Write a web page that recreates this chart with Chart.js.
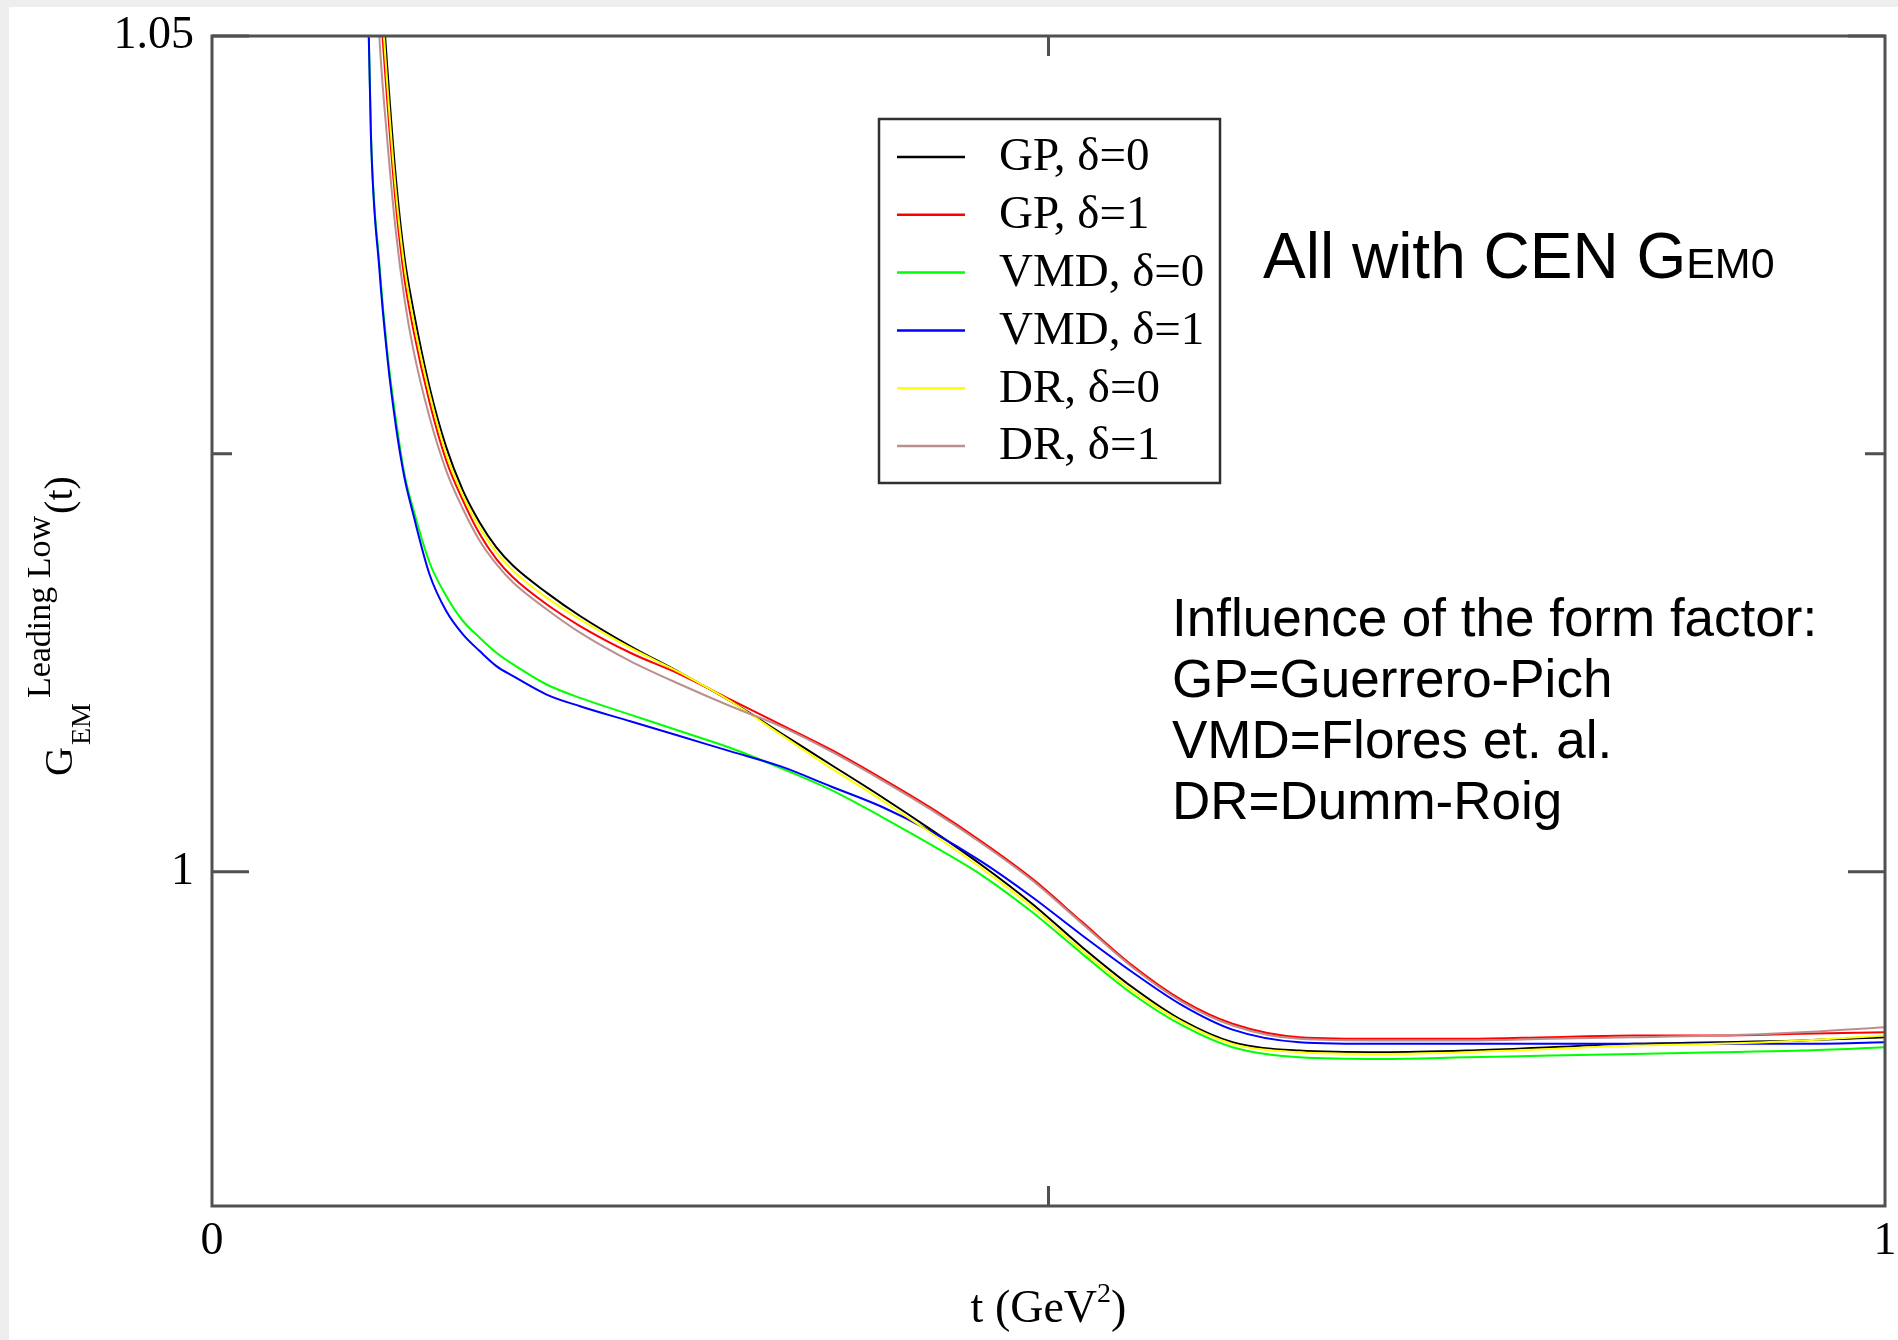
<!DOCTYPE html>
<html>
<head>
<meta charset="utf-8">
<script src="https://cdn.jsdelivr.net/npm/chart.js@4.4.1/dist/chart.umd.min.js"></script>
<style>
  html, body { margin: 0; padding: 0; background: #eeeeee; }
  #wrap { position: absolute; left: 9px; top: 7px; width: 1889px; height: 1333px; background: #ffffff; }
</style>
</head>
<body>
<div id="wrap"><canvas id="chart" width="1889" height="1333"></canvas></div>
<script>
// t values (GeV^2) shared by all curves
const tValues = [0.09, 0.095, 0.1, 0.105, 0.11, 0.115, 0.12, 0.13, 0.14, 0.15, 0.16, 0.17, 0.18, 0.2, 0.22, 0.25, 0.28, 0.31, 0.34, 0.37, 0.4, 0.43, 0.46, 0.49, 0.52, 0.55, 0.58, 0.61, 0.65, 0.7, 0.75, 0.8, 0.85, 0.9, 0.95, 1.0];

// G_EM leading low
const gp0  = [1.078, 1.066, 1.0555, 1.0478, 1.0414, 1.0368, 1.0338, 1.0290, 1.0254, 1.0228, 1.0209, 1.0194, 1.0183, 1.0167, 1.0153, 1.0135, 1.0119, 1.0102, 1.0083, 1.0064, 1.0045, 1.0025, 1.0004, 0.9981, 0.9955, 0.9931, 0.9911, 0.9898, 0.9893, 0.9892, 0.9893, 0.9895, 0.9897, 0.9898, 0.9899, 0.9901];
const gp1  = [1.076, 1.063, 1.0530, 1.0458, 1.0398, 1.0355, 1.0326, 1.0281, 1.0246, 1.0222, 1.0202, 1.0187, 1.0176, 1.0160, 1.0147, 1.0131, 1.0118, 1.0103, 1.0088, 1.0073, 1.0056, 1.0038, 1.0018, 0.9996, 0.9970, 0.9944, 0.9923, 0.9909, 0.9901, 0.9900, 0.9900, 0.9901, 0.9902, 0.9902, 0.9903, 0.9904];
const vmd0 = [1.068, 1.0442, 1.0364, 1.0309, 1.0270, 1.0238, 1.0218, 1.0185, 1.0165, 1.0150, 1.0140, 1.0131, 1.0124, 1.0112, 1.0104, 1.0094, 1.0084, 1.0074, 1.0062, 1.0049, 1.0033, 1.0016, 0.9998, 0.9976, 0.9951, 0.9927, 0.9908, 0.9895, 0.9889, 0.9888, 0.9889, 0.9890, 0.9891, 0.9892, 0.9893, 0.9895];
const vmd1 = [1.068, 1.0440, 1.0361, 1.0306, 1.0266, 1.0236, 1.0215, 1.0178, 1.0156, 1.0142, 1.0132, 1.0123, 1.0117, 1.0106, 1.0099, 1.0090, 1.0081, 1.0072, 1.0063, 1.0051, 1.0039, 1.0024, 1.0006, 0.9985, 0.9962, 0.9940, 0.9920, 0.99055, 0.9898, 0.9897, 0.9897, 0.9897, 0.9897, 0.9897, 0.9897, 0.9898];
const dr0  = [1.077, 1.0645, 1.0545, 1.0468, 1.0406, 1.0362, 1.0332, 1.0286, 1.0250, 1.0225, 1.0206, 1.0191, 1.0180, 1.0164, 1.0151, 1.0134, 1.0119, 1.0102, 1.0082, 1.0062, 1.0043, 1.0023, 1.0002, 0.9979, 0.9953, 0.9929, 0.9910, 0.9897, 0.9892, 0.9891, 0.9892, 0.9894, 0.9896, 0.9897, 0.9899, 0.9902];
const dr1  = [1.073, 1.061, 1.0500, 1.0435, 1.0382, 1.0343, 1.0314, 1.0272, 1.0240, 1.0217, 1.0198, 1.0184, 1.0173, 1.0157, 1.0143, 1.0126, 1.0112, 1.0099, 1.0087, 1.0072, 1.0055, 1.0037, 1.0017, 0.9995, 0.9969, 0.9943, 0.9922, 0.9908, 0.9900, 0.9899, 0.9899, 0.9900, 0.9901, 0.9902, 0.9904, 0.9907];

const seriesLabels = ['GP, δ=0', 'GP, δ=1', 'VMD, δ=0', 'VMD, δ=1', 'DR, δ=0', 'DR, δ=1'];
const seriesColors = ['#000000', '#ff0000', '#00ff00', '#0000ff', '#ffff00', '#bc8f8f'];
const seriesValues = [gp0, gp1, vmd0, vmd1, dr0, dr1];

const xTickValues = [0, 1];
const xTickLabels = ['0', '1'];
const xMinorTicks = [0.5];
const yTickValues = [1, 1.05];
const yTickLabels = ['1', '1.05'];
const yMinorTicks = [1.025];

const noteTitle = 'All with CEN G';
const noteTitleSub = 'EM0';
const noteLines = ['Influence of the form factor:', 'GP=Guerrero-Pich', 'VMD=Flores et. al.', 'DR=Dumm-Roig'];

const serif = 'Liberation Serif, Times New Roman, serif';
const sans = 'Liberation Sans, Arial, sans-serif';

// frame box and inward ticks, like xmgrace draws them
const framePlugin = {
    id: 'frame',
    afterDatasetsDraw(chart) {
        const { ctx, chartArea: a, scales } = chart;
        ctx.save();
        ctx.strokeStyle = '#505050';
        ctx.lineWidth = 3;
        ctx.strokeRect(a.left, a.top, a.right - a.left, a.bottom - a.top);
        ctx.beginPath();
        yTickValues.forEach(v => {
            const py = scales.y.getPixelForValue(v);
            ctx.moveTo(a.left, py); ctx.lineTo(a.left + 37, py);
            ctx.moveTo(a.right, py); ctx.lineTo(a.right - 37, py);
        });
        yMinorTicks.forEach(v => {
            const py = scales.y.getPixelForValue(v);
            ctx.moveTo(a.left, py); ctx.lineTo(a.left + 20, py);
            ctx.moveTo(a.right, py); ctx.lineTo(a.right - 20, py);
        });
        xMinorTicks.forEach(v => {
            const px = scales.x.getPixelForValue(v);
            ctx.moveTo(px, a.bottom); ctx.lineTo(px, a.bottom - 20);
            ctx.moveTo(px, a.top); ctx.lineTo(px, a.top + 20);
        });
        ctx.stroke();
        ctx.restore();
    }
};

// legend box inside the plot
const legendPlugin = {
    id: 'boxLegend',
    afterDraw(chart) {
        const { ctx, chartArea: a } = chart;
        const left = a.left + 667, top = a.top + 83, w = 341, h = 364;
        ctx.save();
        ctx.fillStyle = '#ffffff';
        ctx.fillRect(left, top, w, h);
        ctx.strokeStyle = '#303030';
        ctx.lineWidth = 2.5;
        ctx.strokeRect(left, top, w, h);
        ctx.font = '47px ' + serif;
        ctx.textBaseline = 'middle';
        ctx.fillStyle = '#000';
        chart.data.datasets.forEach((ds, i) => {
            const yy = top + 38 + i * 57.8;
            ctx.strokeStyle = ds.borderColor;
            ctx.lineWidth = 2.5;
            ctx.beginPath();
            ctx.moveTo(left + 18, yy);
            ctx.lineTo(left + 86, yy);
            ctx.stroke();
            ctx.fillText(ds.label, left + 120, yy + 1);
        });
        ctx.restore();
    }
};

// free text and axis titles
const textPlugin = {
    id: 'texts',
    afterDraw(chart) {
        const { ctx, chartArea: a } = chart;
        ctx.save();
        ctx.fillStyle = '#000';
        ctx.textBaseline = 'alphabetic';

        // note at top right
        ctx.font = '64px ' + sans;
        const nx = a.left + 1051, ny = a.top + 242;
        ctx.fillText(noteTitle, nx, ny);
        const tw = ctx.measureText(noteTitle).width;
        ctx.font = '43px ' + sans;
        ctx.fillText(noteTitleSub, nx + tw, ny);

        ctx.font = '53px ' + sans;
        noteLines.forEach((s, i) => {
            ctx.fillText(s, a.left + 960, a.top + 600 + i * 61);
        });

        // x title: t (GeV^2)
        const xs = 't (GeV', xe = ')';
        ctx.font = '46px ' + serif;
        const w1 = ctx.measureText(xs).width, w3 = ctx.measureText(xe).width;
        ctx.font = '28px ' + serif;
        const w2 = ctx.measureText('2').width;
        const cx = (a.left + a.right) / 2;
        const bx = cx - (w1 + w2 + w3) / 2, by = a.bottom + 116;
        ctx.font = '46px ' + serif;
        ctx.fillText(xs, bx, by);
        ctx.fillText(xe, bx + w1 + w2, by);
        ctx.font = '28px ' + serif;
        ctx.fillText('2', bx + w1, by - 20);

        // y title: G_EM^{Leading Low}(t), rotated
        ctx.translate(63, 769);
        ctx.rotate(-Math.PI / 2);
        let u = 0;
        ctx.font = '40px ' + serif;
        ctx.fillText('G', u, 0);
        u += ctx.measureText('G').width + 2;
        ctx.font = '28px ' + serif;
        ctx.fillText('EM', u, 18);
        u += ctx.measureText('EM').width + 5;
        ctx.font = '34px ' + serif;
        ctx.fillText('Leading Low', u, -22);
        u += ctx.measureText('Leading Low').width + 2;
        ctx.font = '40px ' + serif;
        ctx.fillText('(t)', u, 0);
        ctx.restore();
    }
};

const ctx = document.getElementById('chart').getContext('2d');
new Chart(ctx, {
    type: 'line',
    data: {
        datasets: seriesValues.map((vals, i) => ({
            label: seriesLabels[i],
            data: tValues.map((t, j) => ({ x: t, y: vals[j] })),
            borderColor: seriesColors[i],
            backgroundColor: seriesColors[i],
            borderWidth: 2,
            pointRadius: 0,
            cubicInterpolationMode: 'monotone',
            fill: false,
            clip: 0,
            order: seriesValues.length - i
        }))
    },
    options: {
        responsive: false,
        animation: false,
        layout: { padding: { left: 0, right: 13, top: 29, bottom: 0 } },
        plugins: { legend: { display: false }, tooltip: { enabled: false } },
        scales: {
            x: {
                type: 'linear', min: 0, max: 1,
                afterBuildTicks: s => { s.ticks = xTickValues.map(v => ({ value: v })); },
                afterFit: s => { s.height = 134; s.paddingLeft = 0; s.paddingRight = 0; },
                grid: { display: false, drawTicks: false, tickLength: 0 },
                border: { display: false },
                ticks: {
                    callback: (v, i) => xTickLabels[i],
                    font: { family: serif, size: 46 },
                    color: '#000', padding: 8, maxRotation: 0, autoSkip: false
                }
            },
            y: {
                type: 'linear', min: 0.98, max: 1.05,
                afterBuildTicks: s => { s.ticks = yTickValues.map(v => ({ value: v })); },
                afterFit: s => { s.width = 203; s.paddingTop = 0; s.paddingBottom = 0; },
                grid: { display: false, drawTicks: false, tickLength: 0 },
                border: { display: false },
                ticks: {
                    callback: (v, i) => yTickLabels[i],
                    font: { family: serif, size: 46 },
                    color: '#000', padding: 18, autoSkip: false
                }
            }
        }
    },
    plugins: [framePlugin, legendPlugin, textPlugin]
});
</script>
</body>
</html>
